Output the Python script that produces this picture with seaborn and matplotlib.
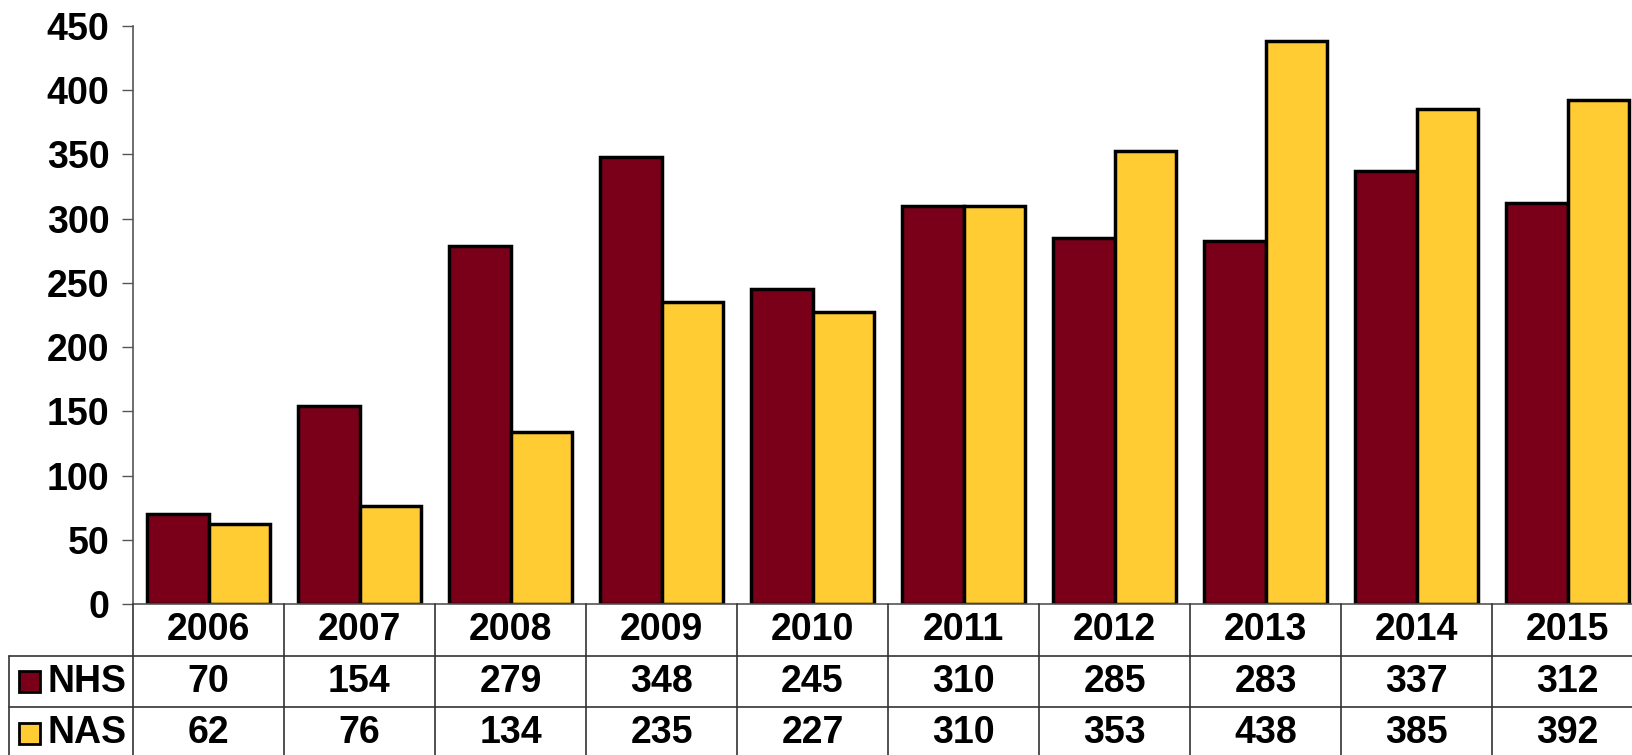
import seaborn as sns
import matplotlib.pyplot as plt
import pandas as pd

years = ["2006", "2007", "2008", "2009", "2010", "2011", "2012", "2013", "2014", "2015"]
nhs = [70, 154, 279, 348, 245, 310, 285, 283, 337, 312]
nas = [62, 76, 134, 235, 227, 310, 353, 438, 385, 392]
series = ["NHS", "NAS"]
colors = {"NHS": "#7A0019", "NAS": "#FFCC33"}

df = pd.DataFrame({
    "year": years * 2,
    "series": ["NHS"] * len(years) + ["NAS"] * len(years),
    "value": nhs + nas,
})

sns.set_style("white")
plt.rcParams["font.family"] = ["Liberation Sans", "DejaVu Sans"]
plt.rcParams["font.weight"] = "bold"
plt.rcParams["text.color"] = "black"
plt.rcParams["ytick.labelcolor"] = "black"

FS = 27
W, H = 1632, 755
fig = plt.figure(figsize=(W / 100, H / 100), dpi=100)
# main plot area in pixels: x 133..1643, y 26..604
ax = fig.add_axes([133 / W, (H - 604) / H, 1510 / W, 578 / H])
sns.barplot(data=df, x="year", y="value", hue="series", hue_order=series,
            palette=colors, edgecolor="black", linewidth=2.5, width=0.82,
            saturation=1, legend=False, ax=ax)
ax.set_xlim(-0.5, len(years) - 0.5)
ax.set_ylim(0, 450)
ax.set_yticks(range(0, 451, 50))
ax.tick_params(axis="y", which="both", left=True, length=8, width=1,
               color="#555555", labelcolor="black", labelsize=FS, pad=9)
ax.tick_params(axis="x", bottom=False, labelbottom=False)
for lab in ax.get_yticklabels():
    lab.set_fontweight("bold")
ax.set_xlabel("")
ax.set_ylabel("")
for s in ["top", "right"]:
    ax.spines[s].set_visible(False)
for s in ["left", "bottom"]:
    ax.spines[s].set_color("#555555")
    ax.spines[s].set_linewidth(1.2)

# data table below the chart
row_h = 51.7
tax = fig.add_axes([133 / W, (H - 604 - 3 * row_h) / H, 1510 / W, 3 * row_h / H])
tax.set_xlim(-0.5, len(years) - 0.5)
tax.set_ylim(3, 0)
tax.axis("off")
lc = "#333333"
left_x = (9 - 133) / 151 - 0.5
for i in range(len(years) + 1):
    tax.plot([i - 0.5, i - 0.5], [0, 3], color=lc, lw=1.2, clip_on=False)
for r in [1, 2]:
    tax.plot([left_x, len(years) - 0.5], [r, r], color=lc, lw=1.2, clip_on=False)
tax.plot([left_x, left_x], [1, 3], color=lc, lw=1.2, clip_on=False)

for i, y in enumerate(years):
    tax.text(i, 0.5, y, ha="center", va="center", fontsize=FS, fontweight="bold")
    tax.text(i, 1.5, str(nhs[i]), ha="center", va="center", fontsize=FS, fontweight="bold")
    tax.text(i, 2.5, str(nas[i]), ha="center", va="center", fontsize=FS, fontweight="bold")

sq_x0 = (19 - 133) / 151 - 0.5
sq_w = 21 / 151
sq_h = 21 / row_h
txt_x = (48 - 133) / 151 - 0.5
for r, name in enumerate(series, start=1):
    tax.add_patch(plt.Rectangle((sq_x0, r + 0.5 - sq_h / 2), sq_w, sq_h,
                                facecolor=colors[name], edgecolor="black",
                                lw=2, clip_on=False))
    tax.text(txt_x, r + 0.5, name, ha="left", va="center", fontsize=FS,
             fontweight="bold")

fig.savefig("out.png", dpi=100)
